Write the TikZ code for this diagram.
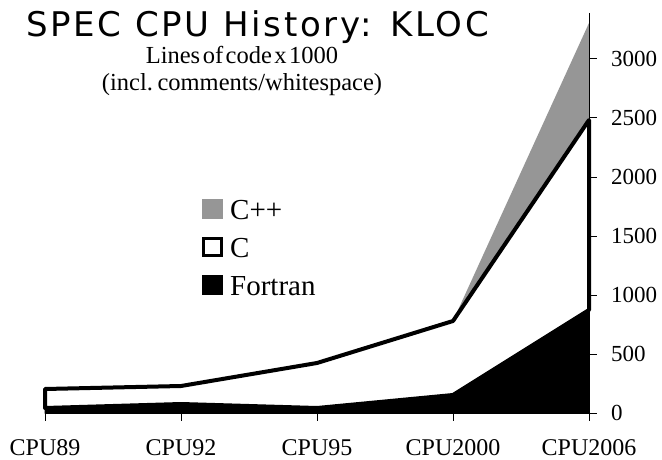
\documentclass[tikz,border=0pt]{standalone}
\usepackage{fontspec}
\setmainfont{Liberation Serif}
\newfontfamily\titlefont[LetterSpace=8]{DejaVu Sans}
\definecolor{cppgray}{RGB}{150,150,150}
\newcommand\mysubfont{\fontsize{24.5}{27}\selectfont\spaceskip=2.5pt\relax}
\tikzset{
  ylab/.style={anchor=west, inner sep=0pt, font=\fontsize{23}{25}\selectfont},
  xlab/.style={anchor=base, inner sep=0pt, font=\fontsize{24}{26}\selectfont},
  leglab/.style={anchor=base west, inner sep=0pt, font=\fontsize{29}{31}\selectfont},
  sublab/.style={anchor=base, inner sep=0pt, font=\mysubfont},
  axisline/.style={line width=1pt},
  outlineC/.style={line width=4pt, line join=round},
}
\begin{document}
\begin{tikzpicture}[x=1pt,y=-1pt]
\useasboundingbox[fill=white] (0,0) rectangle (662,460);
% C++ area
\fill[cppgray] (453,321) -- (589,23) -- (589,120) -- cycle;
% C area
\filldraw[fill=white, draw=black, outlineC] (45,408) -- (45,389) -- (181,386) -- (317,363) -- (453,321) -- (589,120) -- (589,310) -- (453,395) -- (317,408) -- (181,404) -- cycle;
% Fortran area
\filldraw[fill=black, draw=black, line width=1pt] (45,413) -- (45,408) -- (181,404) -- (317,408) -- (453,395) -- (589,310) -- (589,413) -- cycle;
% axes
\coordinate (ytop) at (589,13);
\coordinate (origin) at (589,413);
\coordinate (xleft) at (45,413);
\draw[axisline] (ytop) -- (origin);
\draw[axisline] (xleft) -- (origin);
\foreach \v/\yy in {0/413,500/354,1000/295,1500/236,2000/177,2500/118,3000/59}{
  \draw[axisline] (589,\yy) -- (597,\yy);
  \node[ylab] (yl\v) at (611,\yy) {\v};
}
\foreach \n/\xx in {CPU89/45,CPU92/181,CPU95/317,CPU2000/453,CPU2006/589}{
  \draw[axisline] (\xx,413) -- (\xx,421);
  \node[xlab] (xl\n) at (\xx,455) {\n};
}
% title
\node[anchor=base west, inner sep=0pt, font=\titlefont\fontsize{34}{36}\selectfont] (title) at (26,37) {SPEC CPU History: KLOC};
\node[sublab] (sub1) at (242,63.5) {Lines of code x 1000};
\node[sublab] (sub2) at (242,90.5) {(incl. comments/whitespace)};
% legend
\fill[cppgray] (202,199) rectangle (223,219);
\draw[line width=3.5pt, fill=white] (203.7,238.7) rectangle (221.3,255.3);
\fill[black] (202,275) rectangle (223,295);
\node[leglab] (lcpp) at (230,219) {C++};
\node[leglab] (lc) at (230,257) {C};
\node[leglab] (lf) at (230,295) {Fortran};
\end{tikzpicture}
\end{document}
